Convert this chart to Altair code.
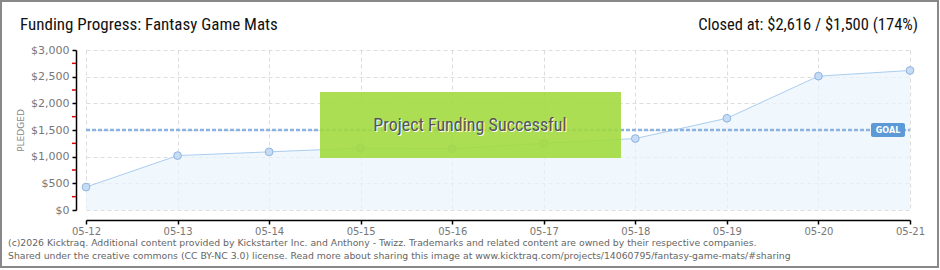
import altair as alt
import pandas as pd

dates = ["05-12", "05-13", "05-14", "05-15", "05-16", "05-17", "05-18", "05-19", "05-20", "05-21"]
pledged = [430, 1020, 1090, 1160, 1150, 1250, 1340, 1720, 2510, 2616]
goal = 1500
y_ticks = [0, 500, 1000, 1500, 2000, 2500, 3000]
minor_ticks = [250, 750, 1250, 1750, 2250, 2750]

title_text = "Funding Progress: Fantasy Game Mats"
closed_text = "Closed at:  $2,616 /  $1,500 (174%)"
success_text = "Project Funding Successful"
footer1 = "(c)2026 Kicktraq. Additional content provided by Kickstarter Inc. and Anthony - Twizz. Trademarks and related content are owned by their respective companies."
footer2 = "Shared under the creative commons (CC BY-NC 3.0) license. Read more about sharing this image at www.kicktraq.com/projects/14060795/fantasy-game-mats/#sharing"

W, H = 824, 160
PL, PT = 86, 50
TITLE_FONT = "Liberation Sans Narrow, Roboto Condensed, Roboto, sans-serif"
SMALL_FONT = "DejaVu Sans, Verdana, sans-serif"

df = pd.DataFrame({"date": dates, "pledged": pledged})
one = pd.DataFrame({"k": [0]})

x_axis = alt.Axis(
    title=None, labelAngle=0, offset=10, domainColor="black", domainWidth=1.5,
    tickColor="black", tickSize=4, tickWidth=1.5, labelColor="#777", labelFont=SMALL_FONT,
    labelFontSize=10, labelPadding=2, grid=True, gridDash=[4, 3], gridColor="#ddd",
    labelOverlap=False,
)
y_axis = alt.Axis(
    values=y_ticks, format="$,.0f", offset=10, domainColor="black", domainWidth=1.5,
    tickColor="black", tickSize=4, tickWidth=1.5, labelColor="#777", labelFont=SMALL_FONT,
    labelFontSize=11, labelPadding=3, grid=True, gridDash=[4, 3], gridColor="#ddd",
    labelOverlap=False,
    title="PLEDGED", titleColor="#888", titleFont=SMALL_FONT, titleFontSize=9,
    titleFontWeight="normal", titlePadding=5,
)
x_scale = alt.Scale(type="point", padding=0, domain=dates)
y_scale = alt.Scale(domain=[0, 3000], nice=False, zero=True)

def X():
    return alt.X("date:O", scale=x_scale, axis=x_axis)

def Y():
    return alt.Y("pledged:Q", scale=y_scale, axis=y_axis)

area = alt.Chart(df).mark_area(
    color="#eaf3fc", line={"color": "#aacdf0", "strokeWidth": 1}
).encode(x=X(), y=Y())

pts = alt.Chart(df).mark_point(
    filled=True, size=60, fill="#c6dcf4", stroke="#8fb4e0", strokeWidth=1, opacity=1
).encode(x=X(), y=Y())

goal_rule = alt.Chart(pd.DataFrame({"pledged": [goal]})).mark_rule(
    color="#8db4e0", strokeWidth=2.5, strokeDash=[4, 2]
).encode(y=Y(), x=alt.value(0), x2=alt.value(W))

minor = alt.Chart(pd.DataFrame({"pledged": minor_ticks})).mark_rule(
    color="#e00000", strokeWidth=1.5
).encode(y=Y(), x=alt.value(-14), x2=alt.value(-10))

goal_box = alt.Chart(one).mark_rect(fill="#5b9ad6", cornerRadius=2).encode(
    x=alt.value(785), x2=alt.value(819), y=alt.value(73), y2=alt.value(87)
)
goal_txt = alt.Chart(one).mark_text(
    text="GOAL", color="white", font=SMALL_FONT, fontSize=8, fontWeight="bold", align="center", baseline="middle"
).encode(x=alt.value(802), y=alt.value(80.5))

green_box = alt.Chart(one).mark_rect(fill="#a2da3f", opacity=0.9).encode(
    x=alt.value(234), x2=alt.value(535), y=alt.value(42), y2=alt.value(108)
)
success_shadow = alt.Chart(one).mark_text(
    text=success_text, color="white", font=TITLE_FONT, fontSize=18, align="center", baseline="middle"
).encode(x=alt.value(385), y=alt.value(77))
success = alt.Chart(one).mark_text(
    text=success_text, color="#555", font=TITLE_FONT, fontSize=18, align="center", baseline="middle"
).encode(x=alt.value(384), y=alt.value(76))

title = alt.Chart(one).mark_text(
    text=title_text, color="#111", font=TITLE_FONT, fontSize=17, align="left", baseline="middle"
).encode(x=alt.value(20 - PL), y=alt.value(25 - PT))
closed = alt.Chart(one).mark_text(
    text=closed_text, color="#111", font=TITLE_FONT, fontSize=16.5, align="right", baseline="middle"
).encode(x=alt.value(918 - PL), y=alt.value(25 - PT))

f1 = alt.Chart(one).mark_text(
    text=footer1, color="#666", font=SMALL_FONT, fontSize=9.3, align="left", baseline="middle"
).encode(x=alt.value(8 - PL), y=alt.value(243 - PT))
f2 = alt.Chart(one).mark_text(
    text=footer2, color="#666", font=SMALL_FONT, fontSize=9.3, align="left", baseline="middle"
).encode(x=alt.value(8 - PL), y=alt.value(256 - PT))

border = alt.Chart(one).mark_rect(filled=False, stroke="#888", strokeWidth=2).encode(
    x=alt.value(1 - PL), x2=alt.value(938 - PL), y=alt.value(1 - PT), y2=alt.value(267 - PT)
)

chart = alt.layer(
    area, goal_rule, pts, minor, green_box, success_shadow, success, goal_box, goal_txt,
    title, closed, f1, f2, border
).properties(
    width=W, height=H,
    autosize=alt.AutoSizeParams(type="none"),
    padding={"left": PL, "top": PT, "right": 940 - PL - W, "bottom": 270 - PT - H},
    background="white",
).configure_view(stroke=None)

chart.save("out.html", embed_options={"renderer": "svg", "actions": False})
